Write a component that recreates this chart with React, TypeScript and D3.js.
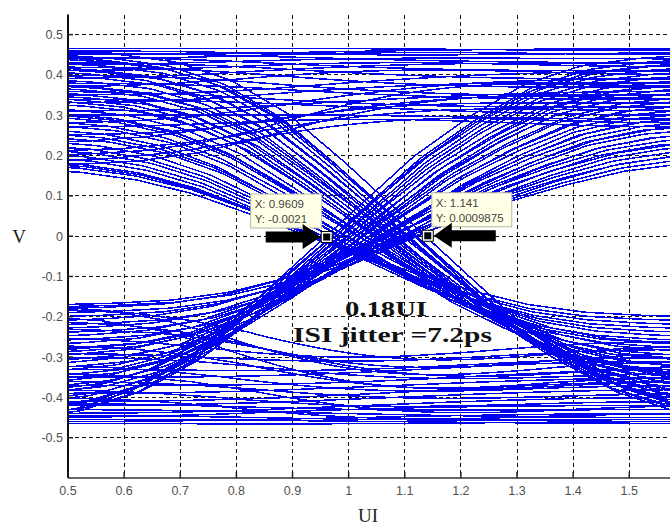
import React from 'react';
import * as d3 from 'd3';

// ---- axes ----
const xTickValues = [0.5, 0.6, 0.7, 0.8, 0.9, 1.0, 1.1, 1.2, 1.3, 1.4, 1.5, 1.6];
const xTickLabels = ['0.5', '0.6', '0.7', '0.8', '0.9', '1', '1.1', '1.2', '1.3', '1.4', '1.5'];
const yTickValues = [-0.5, -0.4, -0.3, -0.2, -0.1, 0, 0.1, 0.2, 0.3, 0.4, 0.5];
const yTickLabels = ['-0.5', '-0.4', '-0.3', '-0.2', '-0.1', '0', '0.1', '0.2', '0.3', '0.4', '0.5'];

// ---- transition profile read from the eye (fraction of swing vs UI) ----
const edgeUI = [0.4, 0.5, 0.6, 0.7, 0.8, 0.9, 1.0, 1.1, 1.2, 1.3, 1.4, 1.5, 1.6, 1.7];
const edgeFrac = [0, 0.01, 0.03, 0.08, 0.17, 0.3, 0.44, 0.58, 0.72, 0.83, 0.92, 0.97, 0.99, 1];

// ---- traces: level at start of window -> (middle) -> level at end, plus timing offset (UI) ----
// stay high
const hhStart = [0.465, 0.46, 0.455, 0.45, 0.445, 0.44, 0.43, 0.425, 0.42, 0.41, 0.40, 0.39, 0.38, 0.37, 0.36, 0.35, 0.34, 0.33, 0.31, 0.30, 0.28, 0.27, 0.25, 0.23, 0.21, 0.20, 0.185, 0.175];
const hhMid = [0.465, 0.45, 0.44, 0.46, 0.42, 0.455, 0.40, 0.44, 0.38, 0.43, 0.36, 0.42, 0.35, 0.41, 0.33, 0.39, 0.32, 0.37, 0.34, 0.30, 0.36, 0.29, 0.33, 0.31, 0.30, 0.35, 0.28, 0.32];
const hhEnd = [0.46, 0.455, 0.43, 0.465, 0.41, 0.45, 0.39, 0.44, 0.37, 0.42, 0.35, 0.43, 0.34, 0.40, 0.32, 0.41, 0.30, 0.38, 0.36, 0.29, 0.39, 0.27, 0.35, 0.33, 0.31, 0.37, 0.28, 0.34];
const hhShift = [0, 0.02, -0.03, 0.04, -0.02, 0.01, 0.05, -0.04, 0.03, -0.01, 0.02, -0.05, 0.04, 0, -0.03, 0.06, -0.02, 0.01, 0.03, -0.04, 0.02, -0.01, 0.05, -0.06, 0.0, 0.04, -0.02, 0.03];
// falling
const hlStart = [0.46, 0.45, 0.445, 0.44, 0.43, 0.42, 0.415, 0.41, 0.40, 0.39, 0.38, 0.375, 0.37, 0.36, 0.35, 0.345, 0.34, 0.33, 0.32, 0.31, 0.305, 0.30, 0.29, 0.28, 0.27, 0.26, 0.25, 0.24, 0.23, 0.22, 0.21, 0.20, 0.19, 0.185, 0.18, 0.17];
const hlEnd = [-0.45, -0.46, -0.42, -0.44, -0.45, -0.40, -0.43, -0.38, -0.44, -0.41, -0.36, -0.42, -0.39, -0.35, -0.40, -0.37, -0.33, -0.38, -0.36, -0.31, -0.35, -0.33, -0.29, -0.34, -0.31, -0.27, -0.30, -0.28, -0.25, -0.27, -0.24, -0.26, -0.22, -0.23, -0.20, -0.21];
const hlShift = [0.09, 0.078, 0.065, 0.078, 0.072, 0.052, 0.065, 0.039, 0.059, 0.046, 0.026, 0.052, 0.033, 0.013, 0.039, 0.02, 0.0, 0.026, 0.007, -0.013, 0.0, -0.007, -0.026, -0.013, -0.033, -0.039, -0.026, -0.046, -0.059, -0.052, -0.065, -0.059, -0.075, -0.07, -0.08, -0.078];
// rising
const lhStart = [-0.46, -0.455, -0.45, -0.44, -0.435, -0.43, -0.42, -0.41, -0.40, -0.395, -0.39, -0.38, -0.37, -0.36, -0.355, -0.35, -0.34, -0.33, -0.32, -0.31, -0.30, -0.29, -0.285, -0.28, -0.27, -0.26, -0.25, -0.24, -0.23, -0.22, -0.21, -0.20, -0.19, -0.18, -0.175, -0.17];
const lhEnd = [0.43, 0.45, 0.40, 0.44, 0.42, 0.38, 0.41, 0.37, 0.43, 0.36, 0.39, 0.34, 0.38, 0.33, 0.36, 0.31, 0.35, 0.30, 0.33, 0.28, 0.32, 0.27, 0.30, 0.26, 0.29, 0.24, 0.28, 0.23, 0.26, 0.21, 0.25, 0.22, 0.20, 0.24, 0.19, 0.21];
const lhShift = [-0.078, -0.085, -0.065, -0.072, -0.065, -0.052, -0.059, -0.039, -0.059, -0.033, -0.046, -0.026, -0.033, -0.013, -0.026, 0.0, -0.013, 0.007, 0.0, 0.02, 0.007, 0.026, 0.02, 0.039, 0.026, 0.046, 0.039, 0.059, 0.052, 0.072, 0.059, 0.072, 0.085, 0.078, 0.09, 0.085];
// stay low
const llStart = [-0.465, -0.46, -0.455, -0.45, -0.445, -0.44, -0.43, -0.42, -0.415, -0.41, -0.40, -0.39, -0.38, -0.37, -0.36, -0.35, -0.34, -0.33, -0.32, -0.30, -0.29, -0.27, -0.25, -0.23, -0.21, -0.195, -0.18, -0.17];
const llMid = [-0.465, -0.45, -0.46, -0.43, -0.455, -0.42, -0.44, -0.40, -0.43, -0.39, -0.45, -0.37, -0.42, -0.36, -0.40, -0.34, -0.43, -0.33, -0.38, -0.35, -0.31, -0.37, -0.30, -0.34, -0.32, -0.36, -0.30, -0.33];
const llEnd = [-0.46, -0.44, -0.465, -0.42, -0.455, -0.40, -0.45, -0.38, -0.43, -0.36, -0.44, -0.35, -0.41, -0.33, -0.39, -0.31, -0.42, -0.30, -0.37, -0.34, -0.28, -0.36, -0.26, -0.32, -0.29, -0.35, -0.27, -0.31];
const llShift = [0, -0.02, 0.03, -0.04, 0.02, -0.01, -0.05, 0.04, -0.03, 0.01, -0.02, 0.05, -0.04, 0, 0.03, -0.06, 0.02, -0.01, -0.03, 0.04, -0.02, 0.01, -0.05, 0.06, 0.0, -0.04, 0.02, -0.03];

// ---- data tips ----
const tipX = [0.9609, 1.141];
const tipY = [-0.0021, 0.0009875];
const tipLabelX = ['X: 0.9609', 'X: 1.141'];
const tipLabelY = ['Y: -0.0021', 'Y: 0.0009875'];

const W = 670;
const H = 526;

export default function App() {
  const x = d3.scaleLinear().domain([0.5, 1.6]).range([68, 685.4]);
  const y = d3.scaleLinear().domain([-0.6, 0.55]).range([478, 14.5]);
  const frac = d3.scaleLinear().domain(edgeUI).range(edgeFrac).clamp(true);
  const samples = d3.range(0.5, 1.625, 0.01);
  const line = d3.line<[number, number]>().x((d) => x(d[0])).y((d) => y(d[1]));

  const paths: string[] = [];
  const addFamily = (s: number[], e: number[], sh: number[], m?: number[]) => {
    s.forEach((a, i) => {
      const b = e[i];
      const off = sh[i];
      const sag = m ? m[i] - (a + b) / 2 : 0;
      const pts: [number, number][] = samples.map((u) => {
        const t = frac(u - off);
        return [u, a + (b - a) * t + sag * 4 * t * (1 - t)];
      });
      paths.push(line(pts) as string);
    });
  };
  addFamily(hhStart, hhEnd, hhShift, hhMid);
  addFamily(hlStart, hlEnd, hlShift);
  addFamily(lhStart, lhEnd, lhShift);
  addFamily(llStart, llEnd, llShift, llMid);

  const x0 = x(0.5);
  const yTop = y(0.55);
  const yBot = y(-0.6);

  return (
    <svg
      width={W}
      height={H}
      style={{ position: 'absolute', left: 0, top: 0, background: '#fff' }}
    >
      <rect x={0} y={0} width={W} height={H} fill="#fff" />
      {/* grid */}
      <g stroke="#111" strokeWidth={1} strokeDasharray="4,3" shapeRendering="crispEdges">
        {xTickValues.slice(1).map((v) => (
          <line key={'gx' + v} x1={x(v)} x2={x(v)} y1={yTop} y2={yBot} />
        ))}
        {yTickValues.map((v) => (
          <line key={'gy' + v} x1={x0} x2={W} y1={y(v)} y2={y(v)} />
        ))}
      </g>
      {/* traces */}
      <defs>
        <clipPath id="plotclip">
          <rect x={x0} y={yTop} width={W - x0} height={yBot - yTop} />
        </clipPath>
      </defs>
      <g clipPath="url(#plotclip)" fill="none" stroke="#0000f0" strokeWidth={1.5} shapeRendering="crispEdges">
        {paths.map((d, i) => (
          <path key={i} d={d} />
        ))}
      </g>
      {/* axes */}
      <line x1={x0} x2={x0} y1={yTop} y2={yBot} stroke="#111" strokeWidth={2} />
      <line x1={x0} x2={W} y1={yBot} y2={yBot} stroke="#333" strokeWidth={1.5} />
      <g stroke="#222" strokeWidth={1.5}>
        {xTickValues.map((v) => (
          <line key={'tx' + v} x1={x(v)} x2={x(v)} y1={yBot} y2={yBot - 6} />
        ))}
        {yTickValues.map((v) => (
          <line key={'ty' + v} x1={x0} x2={x0 + 5} y1={y(v)} y2={y(v)} />
        ))}
      </g>
      <g fontFamily="'Liberation Sans', Arial, sans-serif" fontSize={12.5} fill="#505050">
        {xTickLabels.map((lab, i) => (
          <text key={'lx' + lab} x={x(xTickValues[i])} y={yBot + 17} textAnchor="middle">
            {lab}
          </text>
        ))}
        {yTickValues.map((v, i) => (
          <text key={'ly' + v} x={x0 - 5} y={y(v) + 4.5} textAnchor="end">
            {yTickLabels[i]}
          </text>
        ))}
      </g>
      <text x={19} y={y(0) + 7} textAnchor="middle" fontFamily="'Liberation Serif', 'Times New Roman', serif" fontSize={19} fill="#222">
        V
      </text>
      <text x={368} y={522} textAnchor="middle" fontFamily="'Liberation Serif', 'Times New Roman', serif" fontSize={19} fill="#222">
        UI
      </text>
      {/* data tips */}
      {tipX.map((tx, i) => {
        const px = x(tx);
        const py = y(tipY[i]);
        const bx = i === 0 ? px - 76 : px + 4;
        const dir = i === 0 ? 1 : -1;
        const tip = px - dir * 6;
        const headBase = tip - dir * 18;
        const tail = tip - dir * (i === 0 ? 55 : 62);
        const arrow = [
          [tip, py],
          [headBase, py - 13],
          [headBase, py - 5.5],
          [tail, py - 5.5],
          [tail, py + 5.5],
          [headBase, py + 5.5],
          [headBase, py + 12],
        ]
          .map((p) => p.join(','))
          .join(' ');
        return (
          <g key={'tip' + i}>
            <rect x={bx} y={py - 43} width={i === 0 ? 71 : 80} height={34} fill="#ffffe6" stroke="#b8b8a0" strokeWidth={1} />
            <text x={bx + 4} y={py - 29} fontFamily="'Liberation Sans', Arial, sans-serif" fontSize={11.5} fill="#444">
              {tipLabelX[i]}
            </text>
            <text x={bx + 4} y={py - 14} fontFamily="'Liberation Sans', Arial, sans-serif" fontSize={11.5} fill="#444">
              {tipLabelY[i]}
            </text>
            <polygon points={arrow} fill="#000" />
            <rect x={px - 5.5} y={py - 5.5} width={11} height={11} fill="#fff" stroke="#000" strokeWidth={1} />
            <rect x={px - 3.5} y={py - 3.5} width={7} height={7} fill="#000" />
          </g>
        );
      })}
      {/* annotation */}
      <g fontFamily="'Liberation Serif', 'Times New Roman', serif" fontWeight="bold" fontSize={22} fill="#111">
        <text x={345} y={316} textLength={82} lengthAdjust="spacingAndGlyphs">0.18UI</text>
        <text x={293} y={342} textLength={199} lengthAdjust="spacingAndGlyphs">ISI jitter =7.2ps</text>
      </g>
    </svg>
  );
}
